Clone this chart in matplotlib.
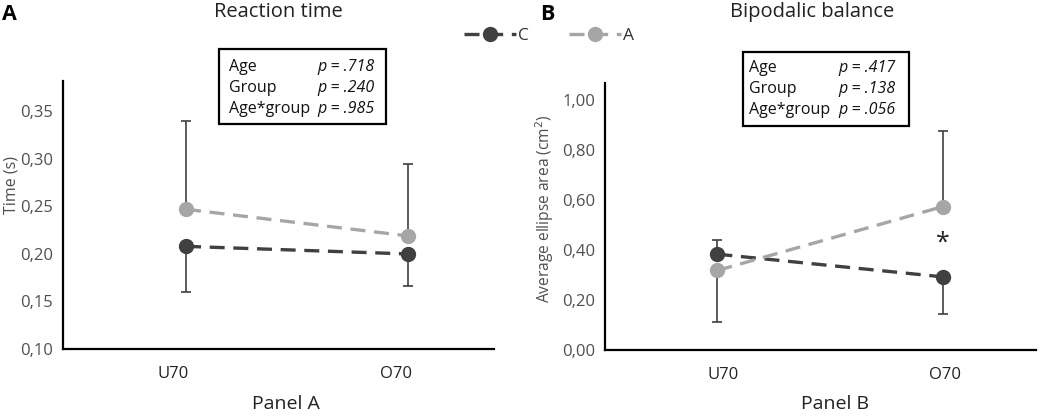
import matplotlib
matplotlib.use('Agg')
import matplotlib.pyplot as plt
from matplotlib.patches import Rectangle

plt.rcParams['font.family'] = ['Open Sans', 'DejaVu Sans']

# Data
groups = ['U70', 'O70']
series_names = ['C', 'A']

# Panel A - reaction time (s)
rt_c = [0.208, 0.200]
rt_a = [0.247, 0.219]
rt_c_err_low = [0.048, 0.034]
rt_c_err_high = [0.0, 0.0]
rt_a_err_low = [0.0, 0.0]
rt_a_err_high = [0.093, 0.076]
rt_stats = [('Age', '.718'), ('Group', '.240'), ('Age*group', '.985')]

# Panel B - bipodalic balance (cm2)
bal_c = [0.384, 0.293]
bal_a = [0.319, 0.575]
bal_c_err_low = [0.0, 0.150]
bal_c_err_high = [0.055, 0.0]
bal_a_err_low = [0.207, 0.0]
bal_a_err_high = [0.0, 0.302]
bal_stats = [('Age', '.417'), ('Group', '.138'), ('Age*group', '.056')]

DARK = '#404040'
LIGHT = '#a6a6a6'
TICK_COL = '#505050'

fig = plt.figure(figsize=(10.4, 4.17), dpi=100)
W, H = 1040, 417

def fx(px):
    return px / W

def fy(py):
    return 1 - py / H

axA = fig.add_axes([fx(63), fy(349), fx(494 - 63), (349 - 81) / H])
axB = fig.add_axes([fx(605), fy(350), fx(1036 - 605), (350 - 83) / H])

def draw_panel(ax, c_vals, a_vals, c_lo, c_hi, a_lo, a_hi):
    x = list(range(len(groups)))
    ax.errorbar(x, a_vals, yerr=[a_lo, a_hi], fmt='none', ecolor=DARK,
                elinewidth=1.2, capsize=3.5, capthick=1.2, zorder=2)
    ax.errorbar(x, c_vals, yerr=[c_lo, c_hi], fmt='none', ecolor=DARK,
                elinewidth=1.2, capsize=3.5, capthick=1.2, zorder=2)
    lc, = ax.plot(x, c_vals, color=DARK, lw=2.4, dashes=(4.5, 2.6),
                  marker='o', ms=10, zorder=3)
    la, = ax.plot(x, a_vals, color=LIGHT, lw=2.4, dashes=(4.5, 2.6),
                  marker='o', ms=10, zorder=3)
    for s in ['top', 'right']:
        ax.spines[s].set_visible(False)
    for s in ['left', 'bottom']:
        ax.spines[s].set_linewidth(1.6)
        ax.spines[s].set_color('black')
    ax.tick_params(length=0, labelsize=12, labelcolor=TICK_COL, pad=7)
    ax.tick_params(axis='x', labelsize=12, labelcolor='#222222', pad=12)
    return lc, la

lc, la = draw_panel(axA, rt_c, rt_a, rt_c_err_low, rt_c_err_high,
                    rt_a_err_low, rt_a_err_high)
axA.set_xlim(-0.554, 1.387)
axA.set_ylim(0.10, 0.382)
axA.set_yticks([0.10, 0.15, 0.20, 0.25, 0.30, 0.35])
axA.set_yticklabels(['0,10', '0,15', '0,20', '0,25', '0,30', '0,35'])
axA.set_xticks([-0.059, 0.946])
axA.set_xticklabels(groups)

draw_panel(axB, bal_c, bal_a, bal_c_err_low, bal_c_err_high,
           bal_a_err_low, bal_a_err_high)
axB.set_xlim(-0.498, 1.412)
axB.set_ylim(0.0, 1.07)
axB.set_yticks([0.0, 0.2, 0.4, 0.6, 0.8, 1.0])
axB.set_yticklabels(['0,00', '0,20', '0,40', '0,60', '0,80', '1,00'])
axB.set_xticks([0.024, 1.01])
axB.set_xticklabels(groups)
axB.text(1, 0.43, '*', ha='center', va='center', fontsize=18, color='#222222')

# Labels and titles
fig.text(fx(12), fy(185), 'Time (s)', rotation=90, ha='center', va='center',
         fontsize=11.5, color=TICK_COL)
fig.text(fx(545), fy(209), 'Average ellipse area (cm$^2$)', rotation=90,
         ha='center', va='center', fontsize=11.2, color=TICK_COL)
fig.text(fx(278), fy(12), 'Reaction time', ha='center', va='center',
         fontsize=14.5, color='#222222')
fig.text(fx(812), fy(12), 'Bipodalic balance', ha='center', va='center',
         fontsize=14.5, color='#222222')
fig.text(fx(286), fy(404), 'Panel A', ha='center', va='center',
         fontsize=14, color='#222222')
fig.text(fx(835), fy(404), 'Panel B', ha='center', va='center',
         fontsize=14, color='#222222')
fig.text(fx(2), fy(15), 'A', ha='left', va='center', fontsize=15.5,
         fontweight='bold')
fig.text(fx(540), fy(15), 'B', ha='left', va='center', fontsize=15.5,
         fontweight='bold')

# Stats boxes
def stats_box(x0, y0, x1, y1, rows, tx, px_right, row_y):
    fig.add_artist(Rectangle((fx(x0), fy(y1)), fx(x1 - x0), (y1 - y0) / H,
                             transform=fig.transFigure, fill=False,
                             edgecolor='black', lw=1.6))
    for (name, p), ry in zip(rows, row_y):
        fig.text(fx(tx), fy(ry), name, ha='left', va='center', fontsize=11.5,
                 color='#111111')
        fig.text(fx(px_right), fy(ry), 'p = ' + p, ha='right', va='center',
                 fontsize=11.5, style='italic', color='#111111')

stats_box(219, 49, 386, 124, rt_stats, 229, 375, [67, 88, 109])
stats_box(743, 52, 909, 126, bal_stats, 749, 896, [68, 89, 110])

# Legend
fig.legend([lc, la], series_names, loc='center', bbox_to_anchor=(0.528, 0.914),
           ncol=2, frameon=False, handlelength=3.0, columnspacing=2.3,
           handletextpad=0.1, fontsize=12.5, labelcolor='#333333')

fig.savefig('out.png', dpi=100)
